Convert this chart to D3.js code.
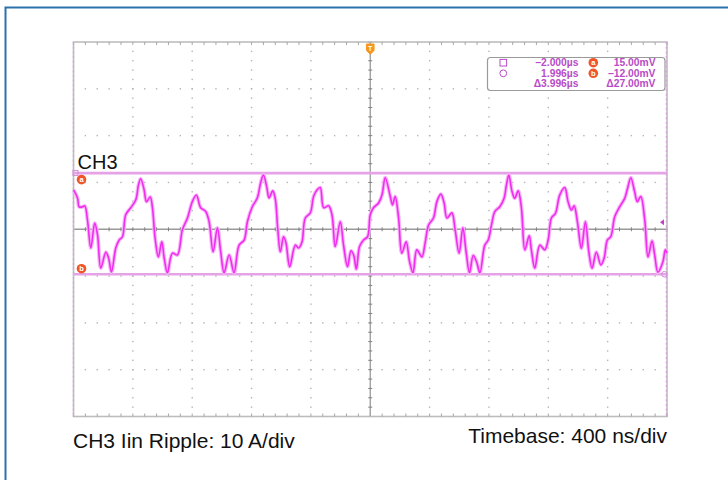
<!DOCTYPE html>
<html>
<head>
<meta charset="utf-8">
<script src="https://cdn.jsdelivr.net/npm/d3@7"></script>
<style>
  html, body { margin: 0; padding: 0; background: #fff; }
  svg { display: block; font-family: 'Liberation Sans', Arial, sans-serif; }
</style>
</head>
<body>
<svg width="728" height="480"></svg>
<script>
// CH3 input current ripple (ns, A)
var timeNs = [-2000,-1973,-1962,-1939,-1924,-1906,-1883,-1857,-1838,-1816,
  -1782,-1764,-1744,-1715,-1692,-1670,-1648,-1614,-1580,-1562,
  -1547,-1524,-1508,-1483,-1468,-1450,-1428,-1405,-1389,-1367,
  -1333,-1300,-1266,-1232,-1199,-1172,-1143,-1109,-1086,-1059,
  -1030,-1008,-985,-951,-918,-884,-850,-828,-795,-761,
  -739,-720,-698,-682,-657,-640,-624,-606,-584,-568,
  -543,-505,-483,-460,-438,-404,-382,-359,-337,-314,
  -281,-258,-236,-202,-180,-153,-130,-112,-94,-72,
  -45,-18,0,22,56,79,101,135,150,168,
  191,213,242,265,288,314,348,370,393,426,
  449,476,498,517,550,572,599,624,646,669,
  694,716,739,772,795,817,840,873,902,918,
  934,956,974,997,1019,1042,1071,1086,1109,1143,
  1176,1199,1221,1248,1277,1311,1333,1356,1374,1396,
  1423,1450,1473,1495,1524,1554,1576,1598,1621,1648,
  1681,1715,1737,1756,1782,1800,1823,1850,1872,1899,
  1917,1939,1973,1989,2000];
var currentA = [8.4,6.7,4.8,4.8,5.0,2.0,-4.0,1.3,-1.2,-8.3,
  -4.9,-6.1,-9.1,-4.0,-2.3,-1.6,3.1,4.6,6.3,9.5,
  10.8,8.4,5.9,6.9,4.6,-1.9,-5.9,-2.7,-6.1,-9.3,
  -5.1,-5.5,-0.1,2.4,5.9,7.3,4.6,3.8,1.6,-4.8,
  0.3,-4.8,-9.3,-5.5,-9.3,-3.4,-2.3,1.6,4.8,6.7,
  9.9,11.6,9.1,6.7,8.2,6.5,0.3,-4.8,-1.6,-2.9,
  -8.0,-3.4,-4.0,-2.7,2.4,3.5,7.0,8.4,8.9,4.6,
  5.0,3.1,-3.7,1.6,-3.4,-8.0,-4.6,-5.5,-8.5,-3.7,
  -2.3,-1.6,3.1,4.6,5.6,7.3,11.0,7.0,5.2,7.0,
  2.4,-5.1,-2.7,-6.9,-9.3,-4.4,-5.9,-2.9,0.9,2.4,
  5.9,7.5,5.6,2.4,3.5,-0.1,-5.1,0.3,-4.8,-9.3,
  -5.6,-6.9,-9.3,-3.4,-2.3,0.9,3.8,4.8,6.6,9.5,
  11.6,8.0,6.6,8.2,4.5,-4.4,-1.4,-4.4,-8.3,-3.4,
  -4.4,-2.3,2.4,3.4,7.3,8.9,5.9,4.1,5.0,1.6,
  -4.1,1.6,-4.8,-8.3,-4.9,-7.6,-6.2,-2.3,-1.6,2.7,
  4.8,6.6,9.1,11.0,8.0,5.9,7.0,2.0,-5.9,-2.5,
  -5.5,-9.2,-6.9,-4.4,-5.1];

var cursorTimesNs = [-2000, 1996];
var cursorLevelsMv = [15, -12];
var cursorNames = ['a', 'b'];
var readoutTimes = ['\u22122.000\u00b5s', '1.996\u00b5s', '\u03943.996\u00b5s'];
var readoutLevels = ['15.00mV', '\u221212.00mV', '\u039427.00mV'];
var triggerLevelA = 1.5;
var channelLabel = 'CH3';
var scaleLabel = 'CH3 Iin Ripple: 10 A/div';
var timebaseLabel = 'Timebase: 400 ns/div';

var xDivs = 10, yDivs = 8;
var nsPerDiv = 400, aPerDiv = 10, mvPerDiv = 12.5;

var svg = d3.select('svg');
var plot = {left: 73.5, right: 667, top: 42, bottom: 416.5};

var x = d3
  .scaleLinear()
  .domain([-xDivs / 2 * nsPerDiv, xDivs / 2 * nsPerDiv])
  .range([plot.left, plot.right]);
var y = d3
  .scaleLinear()
  .domain([-yDivs / 2 * aPerDiv, yDivs / 2 * aPerDiv])
  .range([plot.bottom, plot.top]);
var yMv = d3
  .scaleLinear()
  .domain([-yDivs / 2 * mvPerDiv, yDivs / 2 * mvPerDiv])
  .range([plot.bottom, plot.top]);
var xd = d3.scaleLinear().domain([0, xDivs]).range([plot.left, plot.right]);
var yd = d3.scaleLinear().domain([0, yDivs]).range([plot.top, plot.bottom]);

// outer blue frame
svg
  .append('path')
  .attr('d', 'M5.5,480V7.5H728')
  .attr('fill', 'none')
  .attr('stroke', '#2b72ad')
  .attr('stroke-width', 2);

var grid = svg.append('g');
var minorX = d3.range(0, xDivs * 5 + 1).map(function(i) { return i / 5; });
var minorY = d3.range(0, yDivs * 5 + 1).map(function(i) { return i / 5; });

// dotted graticule
d3.range(1, xDivs).forEach(function(i) {
  if (i === xDivs / 2) return;
  grid
    .selectAll(null)
    .data(minorY.slice(1, -1))
    .enter()
    .append('rect')
    .attr('x', xd(i) - 0.7)
    .attr('y', function(d) { return yd(d) - 0.7; })
    .attr('width', 1.4)
    .attr('height', 1.4)
    .attr('fill', '#b4b4b4');
});
d3.range(1, yDivs).forEach(function(j) {
  if (j === yDivs / 2) return;
  grid
    .selectAll(null)
    .data(minorX.slice(1, -1))
    .enter()
    .append('rect')
    .attr('x', function(d) { return xd(d) - 0.7; })
    .attr('y', yd(j) - 0.7)
    .attr('width', 1.4)
    .attr('height', 1.4)
    .attr('fill', '#b4b4b4');
});

// centre cross with minor ticks
grid
  .append('line')
  .attr('x1', plot.left).attr('x2', plot.right)
  .attr('y1', yd(yDivs / 2)).attr('y2', yd(yDivs / 2))
  .attr('stroke', '#9a9a9a').attr('stroke-width', 1.3);
grid
  .append('line')
  .attr('x1', xd(xDivs / 2)).attr('x2', xd(xDivs / 2))
  .attr('y1', plot.top).attr('y2', plot.bottom)
  .attr('stroke', '#9a9a9a').attr('stroke-width', 1.3);
grid
  .selectAll(null)
  .data(minorX)
  .enter()
  .append('line')
  .attr('x1', function(d) { return xd(d); })
  .attr('x2', function(d) { return xd(d); })
  .attr('y1', yd(yDivs / 2) - 2)
  .attr('y2', yd(yDivs / 2) + 2)
  .attr('stroke', '#808080');
grid
  .selectAll(null)
  .data(minorY)
  .enter()
  .append('line')
  .attr('y1', function(d) { return yd(d); })
  .attr('y2', function(d) { return yd(d); })
  .attr('x1', xd(xDivs / 2) - 2)
  .attr('x2', xd(xDivs / 2) + 2)
  .attr('stroke', '#808080');

// frame and edge ticks
grid
  .append('rect')
  .attr('x', plot.left).attr('y', plot.top)
  .attr('width', plot.right - plot.left)
  .attr('height', plot.bottom - plot.top)
  .attr('fill', 'none')
  .attr('stroke', '#bdbdbd')
  .attr('stroke-width', 1.6);
grid
  .selectAll(null)
  .data(minorX)
  .enter()
  .append('path')
  .attr('d', function(d) {
    return 'M' + xd(d) + ',' + plot.top + 'v3M' + xd(d) + ',' + plot.bottom + 'v-3';
  })
  .attr('stroke', '#a8a8a8');

// vertical cursors sit on the left and right edges
var cursors = svg.append('g');
cursorTimesNs.forEach(function(t) {
  cursors
    .append('line')
    .attr('x1', x(t)).attr('x2', x(t))
    .attr('y1', plot.top).attr('y2', plot.bottom)
    .attr('stroke', '#d9a3e0')
    .attr('stroke-width', 1.4)
    .attr('stroke-dasharray', '2,2.7');
});

// horizontal cursors
cursorLevelsMv.forEach(function(v) {
  cursors
    .append('line')
    .attr('x1', plot.left).attr('x2', plot.right)
    .attr('y1', yMv(v)).attr('y2', yMv(v))
    .attr('stroke', '#e6a2e6')
    .attr('stroke-width', 2.6);
});
cursors
  .append('rect')
  .attr('x', x(cursorTimesNs[0]) - 0.5)
  .attr('y', yMv(cursorLevelsMv[0]) - 2.5)
  .attr('width', 5).attr('height', 5)
  .attr('fill', 'none')
  .attr('stroke', '#d08ad6');
cursors
  .append('circle')
  .attr('cx', x(cursorTimesNs[1]) - 2)
  .attr('cy', yMv(cursorLevelsMv[1]))
  .attr('r', 2.8)
  .attr('fill', 'none')
  .attr('stroke', '#d08ad6');

// the trace
var line = d3
  .line()
  .curve(d3.curveCatmullRom.alpha(0.5))
  .x(function(d, i) { return x(timeNs[i]); })
  .y(function(d) { return y(d); });
var trace = svg.append('g');
trace
  .append('path')
  .datum(currentA)
  .attr('d', line)
  .attr('fill', 'none')
  .attr('stroke', '#f8b4f8')
  .attr('stroke-width', 3.8)
  .attr('stroke-linejoin', 'round');
trace
  .append('path')
  .datum(currentA)
  .attr('d', line)
  .attr('fill', 'none')
  .attr('stroke', '#f02cf0')
  .attr('stroke-width', 1.6)
  .attr('stroke-linejoin', 'round');

// cursor badges on the left edge
function badge(g, cx, cy, letter) {
  g.append('circle')
    .attr('cx', cx).attr('cy', cy).attr('r', 4.8)
    .attr('fill', '#f0552a');
  g.append('text')
    .attr('x', cx).attr('y', cy + 2.6)
    .attr('text-anchor', 'middle')
    .attr('font-size', 7.5)
    .attr('font-weight', 'bold')
    .attr('fill', '#fff')
    .text(letter);
}
badge(cursors, plot.left + 8, yMv(cursorLevelsMv[0]) + 6.5, cursorNames[0]);
badge(cursors, plot.left + 8, yMv(cursorLevelsMv[1]) - 5.5, cursorNames[1]);

// trigger position marker
var tx = x(0);
svg
  .append('path')
  .attr('d', 'M' + (tx - 3.8) + ',' + (plot.top + 2) + 'h7.6v6.5l-3.8,3.8l-3.8,-3.8z')
  .attr('fill', '#f7961e')
  .attr('stroke', '#f7961e')
  .attr('stroke-linejoin', 'round');
svg
  .append('text')
  .attr('x', tx).attr('y', plot.top + 9)
  .attr('text-anchor', 'middle')
  .attr('font-size', 7)
  .attr('font-weight', 'bold')
  .attr('fill', '#fff')
  .text('T');

// trigger level arrow on the right
var ty = y(triggerLevelA);
svg
  .append('path')
  .attr('d', 'M' + (plot.right - 7) + ',' + ty + 'l4,-3v6z')
  .attr('fill', '#c040c8');

// channel label
svg
  .append('text')
  .attr('x', plot.left + 4)
  .attr('y', 168.5)
  .attr('font-size', 20)
  .attr('fill', '#111')
  .text(channelLabel);

// cursor readout box
var box = svg.append('g');
box
  .append('rect')
  .attr('x', 487.5).attr('y', 57.5)
  .attr('width', 177.5).attr('height', 33)
  .attr('rx', 3)
  .attr('fill', '#fff')
  .attr('stroke', '#9a9a9a')
  .attr('stroke-width', 1.2);
var rowY = [62.7, 73.3, 83.6];
box
  .append('rect')
  .attr('x', 500).attr('y', rowY[0] - 3.3)
  .attr('width', 6.6).attr('height', 6.6)
  .attr('fill', 'none').attr('stroke', '#b84cc6');
box
  .append('circle')
  .attr('cx', 503.3).attr('cy', rowY[1])
  .attr('r', 3.4)
  .attr('fill', 'none').attr('stroke', '#b84cc6');
box
  .selectAll(null)
  .data(readoutTimes)
  .enter()
  .append('text')
  .attr('x', 578.5)
  .attr('y', function(d, i) { return rowY[i] + 3.5; })
  .attr('text-anchor', 'end')
  .attr('font-size', 10.3)
  .attr('font-weight', 'bold')
  .attr('fill', '#b84cc6')
  .text(function(d) { return d; });
box
  .selectAll(null)
  .data(readoutLevels)
  .enter()
  .append('text')
  .attr('x', 655.5)
  .attr('y', function(d, i) { return rowY[i] + 3.5; })
  .attr('text-anchor', 'end')
  .attr('font-size', 10.3)
  .attr('font-weight', 'bold')
  .attr('fill', '#b84cc6')
  .text(function(d) { return d; });
badge(box, 593.3, rowY[0], cursorNames[0]);
badge(box, 593.3, rowY[1], cursorNames[1]);

// bottom captions
svg
  .append('text')
  .attr('x', plot.left - 0.5)
  .attr('y', 448)
  .attr('font-size', 21)
  .attr('fill', '#111')
  .text(scaleLabel);
svg
  .append('text')
  .attr('x', plot.right)
  .attr('y', 443)
  .attr('text-anchor', 'end')
  .attr('font-size', 21)
  .attr('fill', '#111')
  .text(timebaseLabel);
</script>
</body>
</html>
